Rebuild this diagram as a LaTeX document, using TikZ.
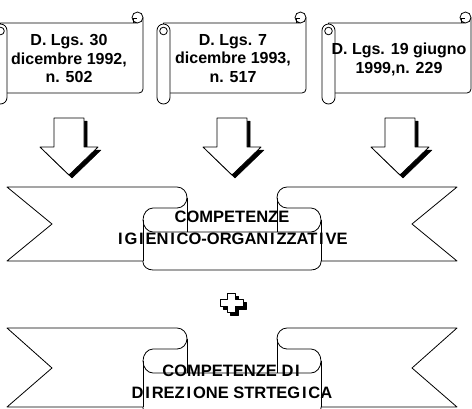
\documentclass[tikz,border=0pt]{standalone}
\usepackage{fontspec}
\setmainfont{Liberation Sans}
\newcommand\II{\kern1.8pt I\kern1.8pt}
\newcommand\scrollshape{%
  \path[outl] (6.5,23) -- (143.5,23) arc[start angle=90,end angle=360,radius=5.5]
     -- (149,89) arc[start angle=0,end angle=90,radius=4] -- (6.5,93) -- cycle;
  \draw[thinl] (149,17.5) arc[start angle=0,end angle=90,radius=5.5];
  \draw[thinl] (139,23) -- (139,18.5) -- (143,18.5);
  \path[outl] (0,30.5) arc[start angle=180,end angle=360,radius=6.5]
     -- (13,97.5) arc[start angle=0,end angle=180,radius=6.5] -- cycle;
  \draw[thinl] (6.5,31) circle[radius=3.8];
}
\newcommand\arrowshape{%
  \path[shad,shift={(3,3)}] (-15,118) -- (15,118) -- (15,147) -- (29,147) -- (0,175) -- (-29,147) -- (-15,147) -- cycle;
  \path[outl] (-15,118) -- (15,118) -- (15,147) -- (29,147) -- (0,175) -- (-29,147) -- (-15,147) -- cycle;
}
% #1 notch y, #2 band bottom y, #3 center bottom y
\newcommand\ribbonshape[3]{%
  \path[outl] (7,187) -- (177,187) arc[start angle=270,end angle=450,x radius=10,y radius=10.5]
     -- (153,208) arc[start angle=270,end angle=90,x radius=10,y radius=12]
     -- (311,232) arc[start angle=90,end angle=-90,x radius=10,y radius=12]
     -- (287,208) arc[start angle=90,end angle=270,x radius=10,y radius=10.5]
     -- (457,187) -- (412,#1) -- (457,#2) -- (321,#2)
     -- (321,#3-8) arc[start angle=0,end angle=90,x radius=10,y radius=8]
     -- (153,#3) arc[start angle=90,end angle=180,x radius=10,y radius=8]
     -- (143,#2) -- (7,#2) -- (52,#1) -- cycle;
  \draw[thinl] (187,197.5) -- (187,232);
  \draw[thinl] (277,197.5) -- (277,232);
  \draw[thinl] (143,#2) -- (143,220);
  \draw[thinl] (321,#2) -- (321,220);
}
\begin{document}
\begin{tikzpicture}[x=1pt,y=-1pt,
  outl/.style={draw=black,line width=0.8pt,fill=white,line join=round},
  thinl/.style={draw=black,line width=0.8pt},
  shad/.style={fill=black,draw=black,line width=0.5pt,line join=round},
  scrolltext/.style={font=\fontsize{16}{18.5}\selectfont\bfseries,align=center,inner sep=0pt},
  ribtext/.style={font=\fontsize{16.5}{22}\selectfont\bfseries,align=center,inner sep=0pt}]
\useasboundingbox (0,0) rectangle (472,408);
\clip (0,0) rectangle (472,408);
\fill[white] (0,0) rectangle (472,408);
% scrolls
\begin{scope}[shift={(-6,0)}]\scrollshape\end{scope}
\begin{scope}[shift={(157,0)}]\scrollshape\end{scope}
\begin{scope}[shift={(322,0)}]\scrollshape\end{scope}
\node[scrolltext] (s1) at (69,58.5) {D. Lgs. 30\\dicembre 1992,\\n. 502};
\node[scrolltext] (s2) at (233,58.5) {D. Lgs. 7\\dicembre 1993,\\n. 517};
\node[scrolltext] (s3) at (399,59.5) {D. Lgs. 19 giugno\\1999,n. 229};
% arrows
\begin{scope}[shift={(69,0)}]\arrowshape\end{scope}
\begin{scope}[shift={(232,0)}]\arrowshape\end{scope}
\begin{scope}[shift={(400,0)}]\arrowshape\end{scope}
% ribbons
\ribbonshape{224}{261}{270}
\node[ribtext] (r1) at (232,227.5) {COMPETENZE\\\II G\II EN\II CO-ORGAN\II ZZAT\II VE};
% plus
\path[shad,shift={(3,3)}] (227.5,293) -- (235.5,293) -- (235.5,299) -- (243,299) -- (243,306) -- (235.5,306) -- (235.5,312) -- (227.5,312) -- (227.5,306) -- (220,306) -- (220,299) -- (227.5,299) -- cycle;
\path[outl] (227.5,293) -- (235.5,293) -- (235.5,299) -- (243,299) -- (243,306) -- (235.5,306) -- (235.5,312) -- (227.5,312) -- (227.5,306) -- (220,306) -- (220,299) -- (227.5,299) -- cycle;
\begin{scope}[shift={(0,141)}]\ribbonshape{227}{266}{275}\end{scope}
\node[ribtext] (r2) at (232,381.5) {COMPETENZE D\II\\D\II REZ\II ONE STRTEG\II CA};
\end{tikzpicture}
\end{document}
